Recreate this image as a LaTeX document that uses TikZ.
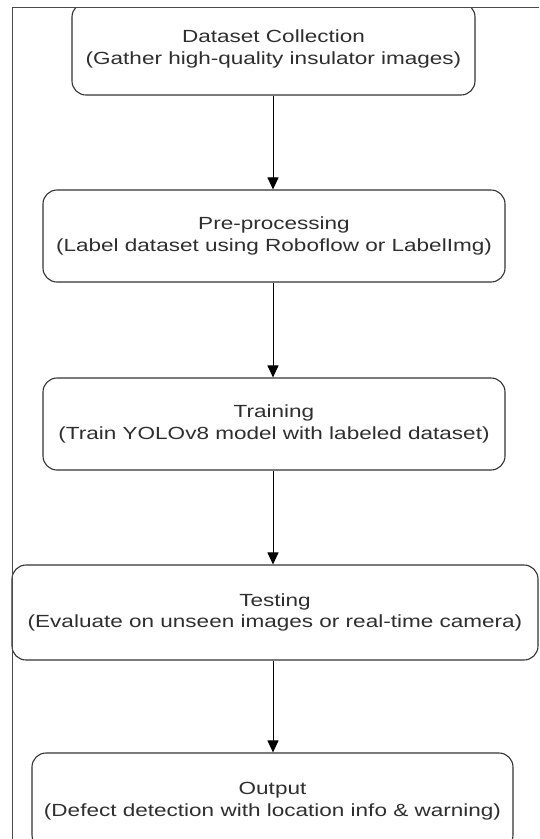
\documentclass[tikz,border=0pt]{standalone}
\usepackage{fontspec}
\setmainfont{Liberation Sans}[FakeStretch=1.28]
\usetikzlibrary{arrows.meta}
\definecolor{txt}{HTML}{2E2E2E}
\definecolor{edge}{HTML}{333333}
\definecolor{frame}{HTML}{4A4A4A}
\tikzset{
  stepbox/.style={draw=edge, line width=1.1pt, rounded corners=14pt, inner sep=0pt,
    align=center, text=txt, font=\fontsize{17.6}{21.5}\selectfont},
  flow/.style={draw=black, line width=1pt, -{Triangle[width=11pt,length=12pt]}}
}
\begin{document}
\begin{tikzpicture}[x=1pt,y=-1pt]
\useasboundingbox (0,0) rectangle (539,839);
\begin{scope}
\clip (0,7) rectangle (539,839);
\node[stepbox, minimum width=403pt, minimum height=92pt] (b1) at (273.5,49)
  {Dataset Collection\\(Gather high-quality insulator images)};
\node[stepbox, minimum width=462pt, minimum height=92pt] (b2) at (274,236)
  {Pre-processing\\(Label dataset using Roboflow or LabelImg)};
\node[stepbox, minimum width=462pt, minimum height=92pt] (b3) at (274,424)
  {Training\\(Train YOLOv8 model with labeled dataset)};
\node[stepbox, minimum width=526pt, minimum height=95pt] (b4) at (275,612.5)
  {Testing\\(Evaluate on unseen images or real-time camera)};
\node[stepbox, minimum width=481pt, minimum height=96pt] (b5) at (272.5,801)
  {Output\\(Defect detection with location info \& warning)};
\coordinate (ax) at (273,0);
\draw[flow] (b1.south -| ax) -- (b2.north -| ax);
\draw[flow] (b2.south -| ax) -- (b3.north -| ax);
\draw[flow] (b3.south -| ax) -- (b4.north -| ax);
\draw[flow] (b4.south -| ax) -- (b5.north -| ax);
\end{scope}
\coordinate (fTL) at (12,7);
\coordinate (fTR) at (539,7);
\coordinate (fBL) at (12,839);
\draw[frame, line width=1pt] (fTR) -- (fTL) -- (fBL);
\end{tikzpicture}
\end{document}
